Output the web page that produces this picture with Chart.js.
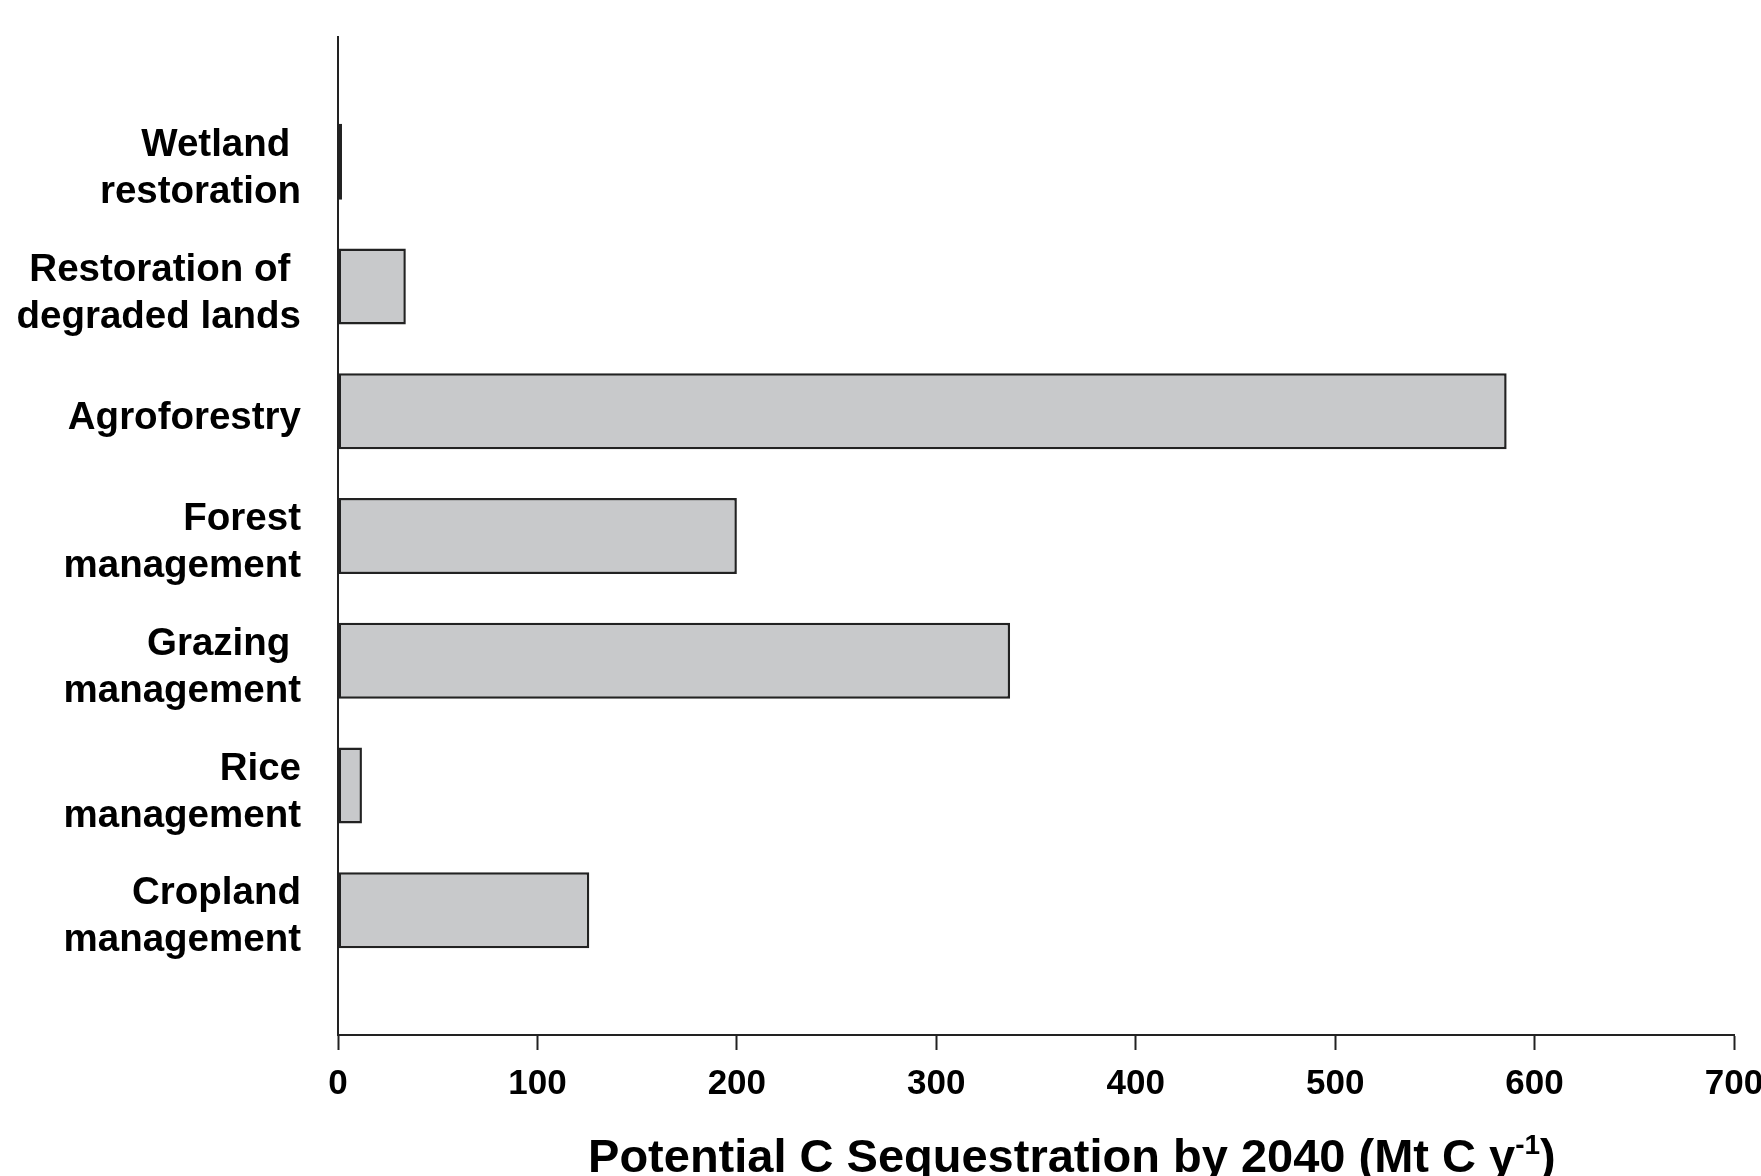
<!DOCTYPE html>
<html>
<head>
<meta charset="utf-8">
<script src="https://cdn.jsdelivr.net/npm/chart.js@4/dist/chart.umd.min.js"></script>
<style>
  html, body { margin: 0; padding: 0; background: #ffffff; }
  canvas { display: block; }
</style>
</head>
<body>
<canvas id="c" width="1761" height="1176"></canvas>
<script>
// ---- data ----
const categories = [
  ['Wetland ', 'restoration'],
  ['Restoration of ', 'degraded lands'],
  ['Agroforestry'],
  ['Forest', 'management'],
  ['Grazing ', 'management'],
  ['Rice', 'management'],
  ['Cropland', 'management']
];
const values = [2, 34, 586, 200, 337, 12, 126];
const xTickValues = [0, 100, 200, 300, 400, 500, 600, 700];
const xAxisTitle = 'Potential C Sequestration by 2040 (Mt C y';
const xAxisTitleSup = '-1';
const xAxisTitleEnd = ')';

// padded category axis: empty slots at both ends
const labels = [''].concat(categories, ['']);
const barData = [null].concat(values, [null]);

const FONT = '"Liberation Sans", Arial, Helvetica, sans-serif';
const INK = '#222222';

const titlePlugin = {
  id: 'xTitleSup',
  afterDraw(chart) {
    const ctx = chart.ctx;
    const area = chart.chartArea;
    const mainSize = 47, supSize = 28;
    ctx.save();
    ctx.fillStyle = '#000';
    ctx.textBaseline = 'alphabetic';
    ctx.textAlign = 'left';
    ctx.font = 'bold ' + mainSize + 'px ' + FONT;
    const w1 = ctx.measureText(xAxisTitle).width;
    const w3 = ctx.measureText(xAxisTitleEnd).width;
    ctx.font = 'bold ' + supSize + 'px ' + FONT;
    const w2 = ctx.measureText(xAxisTitleSup).width;
    const total = w1 + w2 + w3;
    const cx = area.left + area.width * 0.5257;
    const y = area.bottom + 137;
    let x = cx - total / 2;
    ctx.font = 'bold ' + mainSize + 'px ' + FONT;
    ctx.fillText(xAxisTitle, x, y);
    x += w1;
    ctx.font = 'bold ' + supSize + 'px ' + FONT;
    ctx.fillText(xAxisTitleSup, x, y - mainSize * 0.38);
    x += w2;
    ctx.font = 'bold ' + mainSize + 'px ' + FONT;
    ctx.fillText(xAxisTitleEnd, x, y);
    ctx.restore();
  }
};

const bgPlugin = {
  id: 'bg',
  beforeDraw(chart) {
    const ctx = chart.ctx;
    ctx.save();
    ctx.fillStyle = '#ffffff';
    ctx.fillRect(0, 0, chart.width, chart.height);
    ctx.restore();
  }
};

new Chart(document.getElementById('c'), {
  type: 'bar',
  data: {
    labels: labels,
    datasets: [{
      data: barData,
      backgroundColor: '#c8c9cb',
      borderColor: '#222222',
      borderWidth: 2.5,
      borderSkipped: false,
      barPercentage: 0.61,
      categoryPercentage: 1.0
    }]
  },
  options: {
    indexAxis: 'y',
    responsive: false,
    animation: false,
    devicePixelRatio: 1,
    layout: { padding: { top: 37, right: 27, left: 0, bottom: 0 } },
    plugins: {
      legend: { display: false },
      tooltip: { enabled: false },
      title: { display: false }
    },
    scales: {
      x: {
        type: 'linear',
        position: 'bottom',
        min: 0,
        max: 700,
        afterBuildTicks(scale) {
          scale.ticks = xTickValues.map(v => ({ value: v }));
        },
        ticks: {
          color: '#000',
          font: { family: FONT, size: 35, weight: 'bold' },
          padding: 13,
          maxRotation: 0,
          autoSkip: false
        },
        grid: {
          display: true,
          drawOnChartArea: false,
          drawTicks: true,
          tickLength: 15,
          tickWidth: 2,
          tickColor: INK,
          color: INK
        },
        border: { display: true, color: INK, width: 2 },
        afterFit(scale) {
          scale.height = 141;
          scale.paddingLeft = 0;
          scale.paddingRight = 0;
        }
      },
      y: {
        type: 'category',
        position: 'left',
        offset: false,
        ticks: {
          color: '#000',
          font: { family: FONT, size: 38.5, weight: 'bold', lineHeight: 1.22 },
          padding: 37,
          labelOffset: 7,
          autoSkip: false
        },
        grid: { display: false, drawTicks: false },
        border: { display: true, color: INK, width: 2 },
        afterFit(scale) {
          scale.width = 338;
          scale.paddingTop = 0;
          scale.paddingBottom = 0;
        }
      }
    }
  },
  plugins: [bgPlugin, titlePlugin]
});
</script>
</body>
</html>
